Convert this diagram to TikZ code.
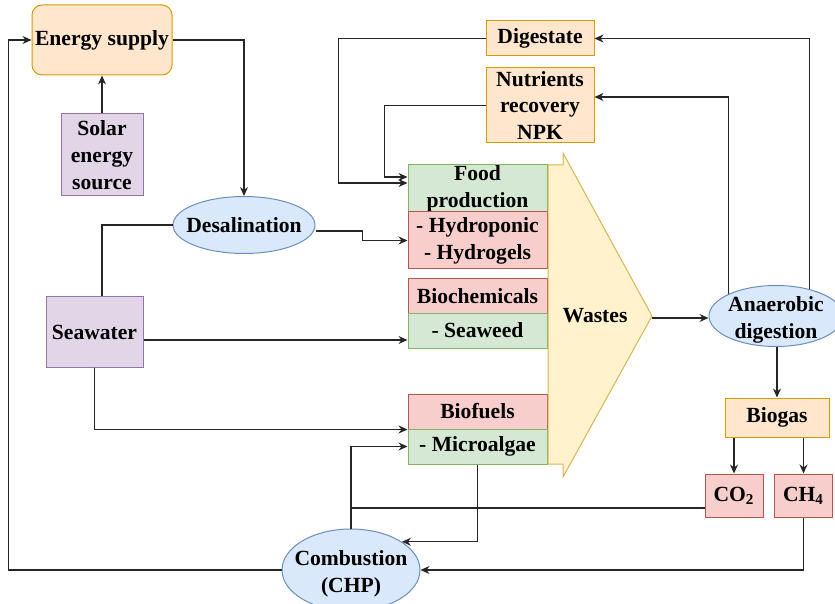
\documentclass[tikz,border=0pt]{standalone}
\usepackage{fontspec}
\setmainfont{Liberation Serif}
\usetikzlibrary{shapes.geometric}
\usetikzlibrary{arrows.meta}
\usetikzlibrary{positioning}

\definecolor{orafill}{HTML}{FFE6CC}\definecolor{oradraw}{HTML}{D79B00}
\definecolor{purfill}{HTML}{E1D5E7}\definecolor{purdraw}{HTML}{9673A6}
\definecolor{blufill}{HTML}{DAE8FC}\definecolor{bludraw}{HTML}{6C8EBF}
\definecolor{grefill}{HTML}{D5E8D4}\definecolor{gredraw}{HTML}{82B366}
\definecolor{redfill}{HTML}{F8CECC}\definecolor{reddraw}{HTML}{B85450}
\definecolor{yelfill}{HTML}{FFF2CC}\definecolor{yeldraw}{HTML}{D6B656}

\begin{document}
\begin{tikzpicture}[x=0.5pt, y=-0.5pt, >={Stealth[length=4.5pt,width=4pt]}]
\tikzstyle{base} = [inner sep=0pt, align=center, line width=0.5pt, font=\bfseries\fontsize{10.8}{13.4}\selectfont]
\tikzstyle{supply} = [base, rectangle, rounded corners=5pt, fill=orafill, draw=oradraw]
\tikzstyle{product} = [base, rectangle, fill=orafill, draw=oradraw]
\tikzstyle{source} = [base, rectangle, fill=purfill, draw=purdraw]
\tikzstyle{process} = [base, ellipse, fill=blufill, draw=bludraw]
\tikzstyle{use} = [base, rectangle, minimum width=69.5pt, fill=grefill, draw=gredraw]
\tikzstyle{app} = [base, rectangle, minimum width=69.5pt, fill=redfill, draw=reddraw]
\tikzstyle{gas} = [base, rectangle, minimum width=29pt, minimum height=21.5pt, fill=redfill, draw=reddraw]
\tikzstyle{line} = [draw=black!85, line width=0.6pt]
\tikzstyle{arr} = [line, ->]

\useasboundingbox (0,0) rectangle (835,604);

% Energy side
\node (energy) [supply, minimum width=70pt, minimum height=35pt] at (102,40) {Energy supply};
\node (solar) [source, minimum width=41pt, minimum height=41pt] at (102,155) {Solar\\energy\\source};
\node (desal) [process, minimum width=71pt, minimum height=28.5pt, label={[base]center:Desalination}] at (244,225) {};
\node (seawater) [source, minimum width=48.5pt, minimum height=35pt] at (94.5,332) {Seawater};
\node (comb) [process, minimum width=69pt, minimum height=41pt, label={[base, yshift=-2pt]center:Combustion\\(CHP)}] at (351,570) {};

% Recovered products
\node (digestate) [product, minimum width=54pt, minimum height=17.5pt] at (540,38.5) {Digestate};
\node (nutrients) [product, minimum width=54pt, minimum height=37.5pt] at (540,105.5) {Nutrients\\recovery\\NPK};

% Uses of seawater
\node (food) [use, minimum height=23.5pt] at (477.5,188.5) {Food\\production};
\node (hydro) [app, minimum height=28.5pt] at (477.5,240.5) {- Hydroponic\\- Hydrogels};
\node (biochem) [app, minimum height=17pt] at (477.5,296) {Biochemicals};
\node (seaweed) [use, minimum height=17.5pt] at (477.5,330.5) {- Seaweed};
\node (biofuels) [app, minimum height=17.5pt] at (477.5,411.5) {Biofuels};
\node (microalgae) [use, minimum height=17.5pt] at (477.5,446.5) {- Microalgae};

% Wastes
\draw [fill=yelfill, draw=yeldraw, line width=0.5pt] (548,165) -- (563,165) -- (563,153) -- (652,316) -- (563,477) -- (563,464) -- (548,464) -- cycle;
\node (wastes) [base] at (595,316) {Wastes};
\coordinate (wtip) at (652,318);

% Digestion
\node (anaer) [process, minimum width=67pt, minimum height=30.5pt, label={[base, yshift=-2pt]center:Anaerobic\\digestion}] at (776,316) {};
\node (biogas) [product, minimum width=52pt, minimum height=19.5pt] at (777,417.5) {Biogas};
\node (co2) [gas] at (734,495.5) {CO\textsubscript{2}};
\node (ch4) [gas] at (803.5,495.5) {CH\textsubscript{4}};

% Draws
\draw [arr] (solar.north) -- (energy.south);
\draw [arr] (energy.east) -| (desal.north);
\draw [arr] (comb.west) -| ([xshift=-11.5pt]energy.west) -- (energy.west);
\draw [line] (desal.west) -| ([xshift=3.75pt]seawater.north);
\draw [arr] ([yshift=-3pt]desal.east) -- ++(23.5pt,0) |- (hydro.west);
\draw [arr] ([yshift=-4pt]seawater.east) -- ([yshift=-4pt]seawater.east -| seaweed.west);
\draw [arr] (seawater.south) |- (biofuels.south west);
\draw [arr] (comb.north) |- (microalgae.west);
\draw [line] ([yshift=-6.25pt]co2.west) -- ([yshift=-6.25pt]co2.west -| comb.north);
\draw [arr] (microalgae.south) |- (comb.29);
\draw [arr] (ch4.south) |- (comb.east);

\draw [arr] (wtip) -- (wtip -| anaer.west);
\draw [arr] (biogas.north |- anaer.south) -- (biogas.north);
\draw [arr] (co2.north |- biogas.south) -- (co2.north);
\draw [arr] (ch4.north |- biogas.south) -- (ch4.north);
\draw [arr] (anaer.39) |- (digestate.east);
\draw [arr] (anaer.155) |- ([yshift=4.25pt]nutrients.east);
\draw [arr] (digestate.west) -- ++(-73.5pt,0) |- ([yshift=2.75pt]food.west);
\draw [arr] (nutrients.west) -- ++(-50.5pt,0) |- ([yshift=5.75pt]food.west);
\end{tikzpicture}
\end{document}
